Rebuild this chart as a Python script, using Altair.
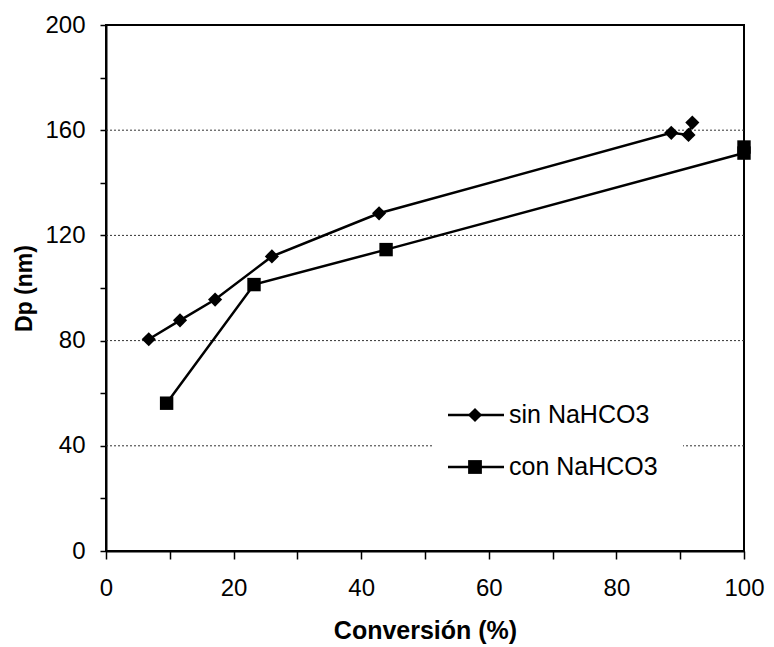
import altair as alt
import pandas as pd

# Data
sin_x = [6.7, 11.6, 17.1, 26.0, 42.8, 88.6, 91.3, 91.9]
sin_y = [80.5, 87.7, 95.6, 112.0, 128.4, 159.0, 158.2, 162.9]
con_x = [9.5, 23.2, 43.9, 100.0, 100.0]
con_y = [56.2, 101.3, 114.6, 151.3, 153.6]
grid_values = [40, 80, 120, 160]
x_ticks = list(range(0, 101, 10))
y_ticks = list(range(0, 201, 20))
legend_labels = ["sin NaHCO3", "con NaHCO3"]

df_sin = pd.DataFrame({"x": sin_x, "y": sin_y, "o": range(len(sin_x))})
df_con = pd.DataFrame({"x": con_x, "y": con_y, "o": range(len(con_x))})
df_grid = pd.DataFrame({"y": grid_values})
one = pd.DataFrame({"a": [0]})

FONT = "Liberation Sans"
W, H = 638, 526

xscale = alt.Scale(domain=[0, 100], nice=False)
yscale = alt.Scale(domain=[0, 200], nice=False)

x_axis = alt.Axis(
    values=x_ticks,
    labelExpr="datum.value % 20 == 0 ? datum.label : ''",
    title="Conversión (%)",
    grid=False,
    tickSize=8, tickColor="black", tickWidth=1.5,
    domainColor="black", domainWidth=2,
    labelFont=FONT, labelFontSize=24, labelColor="black", labelPadding=17,
    labelFlush=False,
    titleFont=FONT, titleFontSize=25, titleFontWeight="bold", titleColor="black",
    titlePadding=18,
)
y_axis = alt.Axis(
    values=y_ticks,
    labelExpr="datum.value % 40 == 0 ? datum.label : ''",
    title="Dp (nm)",
    grid=False,
    tickSize=6, tickColor="black", tickWidth=1.5,
    domainColor="black", domainWidth=2,
    labelFont=FONT, labelFontSize=24, labelColor="black", labelPadding=15,
    labelFlush=False,
    titleFont=FONT, titleFontSize=23, titleFontWeight="bold", titleColor="black",
    titlePadding=8,
)

grid = alt.Chart(df_grid).mark_rule(
    color="#333333", strokeWidth=1, strokeDash=[2, 2]
).encode(y=alt.Y("y:Q", scale=yscale, axis=y_axis))

axis_x_layer = alt.Chart(df_grid).mark_point(opacity=0).encode(
    x=alt.X("x:Q", scale=xscale, axis=x_axis),
    y=alt.Y("y:Q", scale=yscale, axis=y_axis),
).transform_calculate(x="0")

legend_bg = alt.Chart(one).mark_rect(color="white").encode(
    x=alt.value(328), x2=alt.value(577), y=alt.value(365), y2=alt.value(470)
)

def series(df, shape, size):
    line = alt.Chart(df).mark_line(color="black", strokeWidth=2.5).encode(
        x=alt.X("x:Q", scale=xscale, axis=x_axis),
        y=alt.Y("y:Q", scale=yscale, axis=y_axis),
        order="o:Q",
    )
    pts = alt.Chart(df).mark_point(
        shape=shape, filled=True, color="black", size=size, opacity=1
    ).encode(
        x=alt.X("x:Q", scale=xscale, axis=x_axis),
        y=alt.Y("y:Q", scale=yscale, axis=y_axis),
    )
    return line + pts

sin_layer = series(df_sin, "diamond", 200)
con_layer = series(df_con, "square", 180)

def legend_entry(label, shape, size, ypix):
    rule = alt.Chart(one).mark_rule(color="black", strokeWidth=2.5).encode(
        x=alt.value(342), x2=alt.value(398), y=alt.value(ypix)
    )
    pt = alt.Chart(one).mark_point(
        shape=shape, filled=True, color="black", size=size, opacity=1
    ).encode(x=alt.value(369), y=alt.value(ypix))
    txt = alt.Chart(one).mark_text(
        text=label, align="left", baseline="middle", font=FONT,
        fontSize=25, color="black"
    ).encode(x=alt.value(403), y=alt.value(ypix))
    return rule + pt + txt

leg1 = legend_entry(legend_labels[0], "diamond", 200, 390)
leg2 = legend_entry(legend_labels[1], "square", 190, 442)

chart = alt.layer(
    axis_x_layer, grid, legend_bg, sin_layer, con_layer, leg1, leg2
).properties(
    width=W, height=H,
    autosize=alt.AutoSizeParams(type="none"),
    padding={"left": 98, "top": 17, "right": 22, "bottom": 96},
).configure_view(stroke="black", strokeWidth=2)

chart.save("out.html", embed_options={"renderer": "svg", "actions": False})
